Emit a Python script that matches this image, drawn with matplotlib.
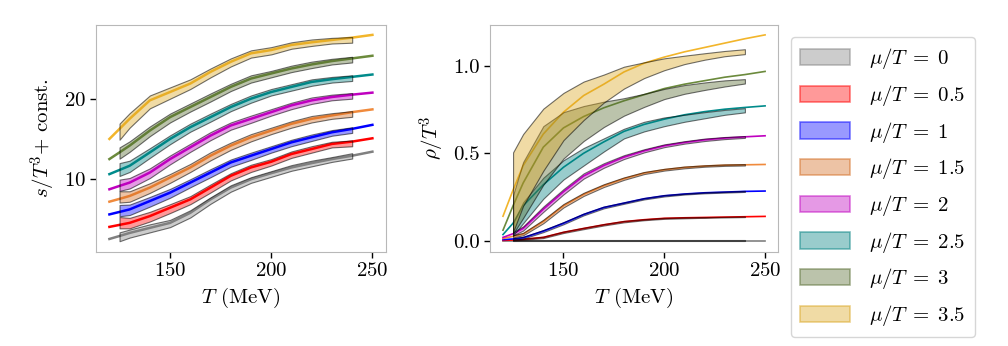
import numpy as np
import matplotlib
matplotlib.use("Agg")
import matplotlib.pyplot as plt
from matplotlib.patches import Patch
from matplotlib.colors import to_rgba

plt.rcParams['font.family'] = 'serif'
plt.rcParams['font.serif'] = ['cmr10', 'DejaVu Serif']
plt.rcParams['mathtext.fontset'] = 'cm'
plt.rcParams['axes.formatter.use_mathtext'] = True
plt.rcParams['axes.unicode_minus'] = False

# temperatures (MeV)
T_line = [120, 125, 130, 140, 150, 160, 170, 180, 190, 200, 210, 220, 230, 240, 250]
T_band = [125, 130, 140, 150, 160, 170, 180, 190, 200, 210, 220, 230, 240]

mu_labels = ['0', '0.5', '1', '1.5', '2', '2.5', '3', '3.5']
line_colors = ['gray', 'red', 'blue', '#f08a3c', 'm', 'darkcyan', '#6b8a3c', '#f2b52b']
band_colors = ['gray', 'red', 'blue', 'chocolate', 'm', 'teal', 'darkolivegreen', 'goldenrod']

# left panel: s/T^3 + const., model curves
s_line = [
    [2.58, 2.95, 3.33, 3.96, 4.58, 5.83, 7.5, 8.96, 10.0, 10.75, 11.46, 12.0, 12.5, 12.92, 13.42],
    [4.08, 4.33, 4.58, 5.42, 6.46, 7.5, 8.96, 10.42, 11.46, 12.17, 13.13, 13.75, 14.38, 14.67, 15.08],
    [5.63, 5.94, 6.25, 7.29, 8.33, 9.58, 10.83, 12.08, 12.92, 13.75, 14.58, 15.21, 15.83, 16.25, 16.75],
    [7.21, 7.56, 7.92, 8.96, 10.21, 11.46, 12.92, 14.17, 15.21, 16.04, 16.88, 17.5, 17.92, 18.33, 18.67],
    [8.75, 9.17, 9.58, 10.83, 12.5, 13.96, 15.42, 16.67, 17.5, 18.33, 19.17, 19.79, 20.21, 20.5, 20.75],
    [10.63, 11.15, 11.67, 13.33, 15.0, 16.46, 17.71, 18.96, 20.0, 20.83, 21.46, 22.08, 22.42, 22.71, 23.0],
    [12.5, 13.33, 14.17, 16.04, 17.71, 18.96, 20.21, 21.46, 22.5, 23.13, 23.75, 24.25, 24.67, 25.0, 25.33],
    [15.0, 16.25, 17.5, 19.79, 20.83, 21.88, 23.33, 24.58, 25.63, 26.04, 26.67, 27.0, 27.29, 27.58, 27.92],
]
# left panel: lattice band centre and half width on T_band
s_band_mid = [
    [2.85, 3.25, 3.9, 4.5, 5.7, 7.35, 8.85, 9.9, 10.65, 11.4, 11.95, 12.45, 12.9],
    [4.6, 4.55, 5.35, 6.35, 7.4, 8.85, 10.3, 11.35, 12.1, 13.05, 13.7, 14.3, 14.45],
    [6.1, 6.2, 7.2, 8.25, 9.5, 10.75, 12.0, 12.85, 13.7, 14.5, 15.15, 15.75, 16.1],
    [7.8, 7.85, 8.9, 10.1, 11.4, 12.85, 14.1, 15.15, 16.0, 16.8, 17.45, 17.85, 18.1],
    [9.25, 9.5, 10.75, 12.4, 13.9, 15.35, 16.6, 17.45, 18.3, 19.1, 19.75, 20.15, 20.35],
    [11.2, 11.6, 13.25, 14.9, 16.4, 17.65, 18.9, 19.95, 20.8, 21.4, 22.0, 22.35, 22.55],
    [13.25, 14.05, 15.95, 17.6, 18.9, 20.15, 21.4, 22.45, 23.05, 23.7, 24.2, 24.6, 24.85],
    [15.9, 17.3, 19.6, 20.7, 21.8, 23.2, 24.5, 25.55, 25.95, 26.6, 26.95, 27.2, 27.3],
]
s_band_err = [
    [0.55, 0.5, 0.5, 0.45, 0.45, 0.4, 0.4, 0.35, 0.35, 0.35, 0.35, 0.3, 0.33],
    [0.7, 0.65, 0.6, 0.55, 0.5, 0.5, 0.45, 0.45, 0.4, 0.4, 0.4, 0.35, 0.36],
    [0.7, 0.65, 0.6, 0.55, 0.5, 0.5, 0.45, 0.45, 0.4, 0.4, 0.4, 0.35, 0.35],
    [0.7, 0.65, 0.6, 0.55, 0.5, 0.5, 0.45, 0.45, 0.4, 0.4, 0.4, 0.35, 0.35],
    [0.7, 0.65, 0.6, 0.55, 0.5, 0.5, 0.45, 0.45, 0.4, 0.4, 0.4, 0.35, 0.35],
    [0.8, 0.7, 0.6, 0.55, 0.5, 0.5, 0.45, 0.45, 0.4, 0.4, 0.4, 0.35, 0.35],
    [0.7, 0.65, 0.6, 0.55, 0.5, 0.5, 0.45, 0.45, 0.4, 0.4, 0.4, 0.35, 0.35],
    [1.0, 0.9, 0.8, 0.7, 0.6, 0.55, 0.5, 0.45, 0.45, 0.4, 0.4, 0.35, 0.35],
]

# right panel: rho/T^3, model curves
rho_line = [
    [0.0] * 15,
    [0.002, 0.004, 0.008, 0.019, 0.048, 0.07, 0.091, 0.109, 0.12, 0.128, 0.131, 0.133, 0.135, 0.137, 0.139],
    [0.006, 0.01, 0.017, 0.055, 0.1, 0.15, 0.19, 0.215, 0.24, 0.257, 0.267, 0.274, 0.278, 0.282, 0.284],
    [0.013, 0.025, 0.038, 0.11, 0.2, 0.265, 0.315, 0.355, 0.387, 0.406, 0.419, 0.427, 0.432, 0.434, 0.436],
    [0.019, 0.04, 0.07, 0.18, 0.28, 0.37, 0.43, 0.478, 0.514, 0.543, 0.562, 0.577, 0.587, 0.594, 0.6],
    [0.035, 0.1, 0.2, 0.32, 0.42, 0.5, 0.565, 0.625, 0.665, 0.695, 0.72, 0.738, 0.752, 0.762, 0.771],
    [0.06, 0.2, 0.33, 0.535, 0.645, 0.71, 0.76, 0.8, 0.835, 0.87, 0.895, 0.915, 0.935, 0.95, 0.968],
    [0.14, 0.29, 0.43, 0.61, 0.735, 0.83, 0.895, 0.965, 1.015, 1.05, 1.08, 1.105, 1.13, 1.155, 1.177],
]
# right panel: lattice bands on T_band
rho_lo = [
    [-0.003] * 13,
    [0.002, 0.005, 0.015, 0.044, 0.066, 0.087, 0.105, 0.117, 0.125, 0.128, 0.131, 0.133, 0.135],
    [0.006, 0.012, 0.049, 0.094, 0.145, 0.185, 0.211, 0.236, 0.253, 0.264, 0.271, 0.275, 0.279],
    [0.019, 0.031, 0.1, 0.19, 0.256, 0.307, 0.348, 0.381, 0.401, 0.414, 0.423, 0.428, 0.43],
    [0.03, 0.058, 0.165, 0.265, 0.355, 0.417, 0.467, 0.505, 0.535, 0.555, 0.57, 0.581, 0.588],
    [0.03, 0.1, 0.24, 0.35, 0.43, 0.51, 0.585, 0.625, 0.655, 0.68, 0.7, 0.72, 0.734],
    [0.04, 0.13, 0.32, 0.47, 0.57, 0.65, 0.715, 0.765, 0.81, 0.84, 0.862, 0.882, 0.899],
    [0.05, 0.2, 0.4, 0.575, 0.69, 0.79, 0.87, 0.93, 0.975, 1.01, 1.035, 1.055, 1.067],
]
rho_hi = [
    [0.003] * 13,
    [0.006, 0.011, 0.023, 0.052, 0.074, 0.095, 0.113, 0.123, 0.131, 0.134, 0.135, 0.137, 0.139],
    [0.014, 0.022, 0.061, 0.106, 0.155, 0.195, 0.219, 0.244, 0.261, 0.27, 0.277, 0.281, 0.285],
    [0.031, 0.045, 0.12, 0.21, 0.274, 0.323, 0.362, 0.393, 0.411, 0.424, 0.431, 0.436, 0.438],
    [0.05, 0.082, 0.195, 0.295, 0.385, 0.443, 0.489, 0.523, 0.551, 0.569, 0.584, 0.593, 0.598],
    [0.1, 0.22, 0.36, 0.46, 0.53, 0.585, 0.64, 0.68, 0.705, 0.72, 0.735, 0.748, 0.758],
    [0.26, 0.45, 0.655, 0.735, 0.77, 0.795, 0.815, 0.84, 0.868, 0.89, 0.905, 0.917, 0.924],
    [0.505, 0.61, 0.755, 0.845, 0.91, 0.95, 0.995, 1.02, 1.043, 1.058, 1.072, 1.085, 1.095],
]

fs = 15
fig = plt.figure(figsize=(10.08, 3.46), dpi=100)
ax1 = fig.add_axes([0.0955, 0.273, 0.2870, 0.656])
ax2 = fig.add_axes([0.4860, 0.273, 0.2860, 0.656])

edge = (0, 0, 0, 0.55)
for i in range(len(mu_labels)):
    ax1.plot(T_line, s_line[i], color=line_colors[i], lw=1.8, zorder=2)
    mid = np.array(s_band_mid[i])
    err = np.array(s_band_err[i])
    ax1.fill_between(T_band, mid - err, mid + err, facecolor=to_rgba(band_colors[i], 0.4),
                     edgecolor=edge, lw=0.8, zorder=3)

    ax2.plot(T_line, rho_line[i], color=line_colors[i], lw=1.2, zorder=2)
    ax2.fill_between(T_band, rho_lo[i], rho_hi[i], facecolor=to_rgba(band_colors[i], 0.4),
                     edgecolor=edge, lw=0.8, zorder=3)

ax1.set_yticks([10, 20])
ax2.set_yticks([0.0, 0.5, 1.0])
ax2.set_yticklabels(['0.0', '0.5', '1.0'])
for ax in (ax1, ax2):
    ax.set_xticks([150, 200, 250])
    ax.tick_params(labelsize=fs, direction='out', length=4, width=1, color='k')
    for sp in ax.spines.values():
        sp.set_color('0.72')
        sp.set_linewidth(0.8)
    ax.set_xlabel(r'$T$ (MeV)', fontsize=fs)
ax1.set_ylabel(r'$s/T^3$+ const.', fontsize=fs)
ax2.set_ylabel(r'$\rho/T^3$', fontsize=fs)

handles = [Patch(facecolor=to_rgba(c, 0.4), edgecolor=to_rgba(c, 0.5), lw=1.2) for c in band_colors]
labels = [r'$\mu/T\;=\;%s$' % m for m in mu_labels]
fig.legend(handles, labels, loc='upper left', bbox_to_anchor=(791 / 1008, 1 - 37 / 346),
           fontsize=fs, handlelength=2.4, handleheight=0.85, handletextpad=0.9,
           labelspacing=0.56, borderaxespad=0, borderpad=0.45, frameon=True,
           edgecolor='0.8', fancybox=True)

fig.savefig('out.png', dpi=100)
